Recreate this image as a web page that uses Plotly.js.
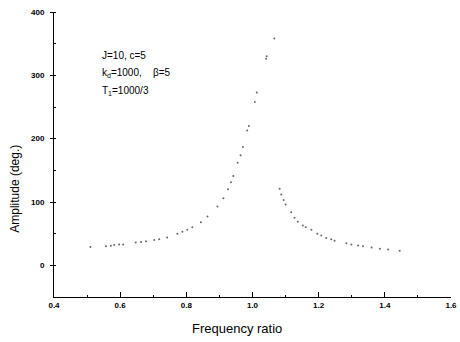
<!DOCTYPE html>
<html>
<head>
<meta charset="utf-8">
<script src="https://cdn.plot.ly/plotly-3.0.1.min.js"></script>
<style>html,body{margin:0;padding:0;background:#fff;}#chart{width:460px;height:342px;}</style>
</head>
<body>
<div id="chart"></div>
<script>
const freqRatio = [0.51, 0.557, 0.572, 0.582, 0.597, 0.609, 0.647, 0.663, 0.678, 0.703, 0.718, 0.742, 0.773, 0.788, 0.803, 0.818, 0.844, 0.864, 0.894, 0.912, 0.926, 0.935, 0.942, 0.955, 0.964, 0.971, 0.984, 0.989, 1.007, 1.013, 1.041, 1.043, 1.066, 1.082, 1.087, 1.094, 1.100, 1.117, 1.127, 1.137, 1.152, 1.161, 1.178, 1.196, 1.208, 1.223, 1.238, 1.248, 1.284, 1.299, 1.319, 1.334, 1.360, 1.385, 1.410, 1.445];
const amplitude = [29, 30, 31, 32, 33, 33, 36, 37, 38, 40, 41, 44, 50, 53, 56, 60, 68, 77, 93, 106, 120, 131, 141, 162, 174, 187, 213, 220, 258, 273, 326, 330, 358, 121, 112, 103, 96, 84, 75, 69, 63, 60, 56, 50, 47, 43, 41, 39, 35, 33, 31.5, 30, 28, 26, 25, 23];
const xTickVals = [0.4, 0.6, 0.8, 1.0, 1.2, 1.4, 1.6];
const xTickText = ['0.4', '0.6', '0.8', '1.0', '1.2', '1.4', '1.6'];
const yTickVals = [0, 100, 200, 300, 400];
const yTickText = ['0', '100', '200', '300', '400'];
const paramLines = ['J=10, c=5', 'k<sub>d</sub>=1000,    β=5', 'T<sub>1</sub>=1000/3'];

const tickFont = {family: 'Liberation Sans Narrow, Arial, sans-serif', size: 8, color: '#000', weight: 'bold'};

const trace = {
  x: freqRatio, y: amplitude, type: 'scatter', mode: 'markers',
  marker: {size: 2, color: '#666'}, showlegend: false, hoverinfo: 'none'
};

const annotations = paramLines.map((t, i) => ({
  xref: 'paper', yref: 'paper', x: 0.116, y: (297 - [55, 73, 91][i]) / 285,
  xanchor: 'left', yanchor: 'middle', showarrow: false, text: t,
  font: {family: 'Liberation Sans Narrow, Arial, sans-serif', size: 10, color: '#000'}
}));
annotations.push({
  xref: 'paper', yref: 'paper', x: -0.098, y: 0.38, textangle: -90,
  xanchor: 'center', yanchor: 'middle', showarrow: false, text: 'Amplitude (deg.)',
  font: {family: 'Liberation Sans Narrow, Arial, sans-serif', size: 12, color: '#000'}
});
annotations.push({
  xref: 'paper', yref: 'paper', x: 0.46, y: -0.11,
  xanchor: 'center', yanchor: 'middle', showarrow: false, text: 'Frequency ratio',
  font: {family: 'Liberation Sans Narrow, Arial, sans-serif', size: 13, color: '#000'}
});

const layout = {
  width: 460, height: 342,
  margin: {l: 54, r: 9, t: 12, b: 45},
  paper_bgcolor: '#fff', plot_bgcolor: '#fff',
  xaxis: {
    range: [0.4, 1.6], tickvals: xTickVals, ticktext: xTickText,
    ticks: 'inside', ticklen: 5, tickcolor: '#000', tickwidth: 1,
    minor: {dtick: 0.1, tick0: 0.4, ticks: 'inside', ticklen: 2, tickcolor: '#000'},
    showline: true, linecolor: '#000', linewidth: 1, showgrid: false, zeroline: false,
    tickfont: tickFont
  },
  yaxis: {
    range: [-50, 400], tickvals: yTickVals, ticktext: yTickText,
    ticks: 'outside', ticklen: 3, tickcolor: '#000', tickwidth: 1,
    minor: {dtick: 50, tick0: 0, ticks: 'inside', ticklen: 2, tickcolor: '#000'},
    showline: true, linecolor: '#000', linewidth: 1, showgrid: false, zeroline: false,
    tickfont: tickFont, ticklabelstandoff: 4
  },
  annotations: annotations
};

Plotly.newPlot('chart', [trace], layout, {staticPlot: true, displayModeBar: false});
</script>
</body>
</html>
